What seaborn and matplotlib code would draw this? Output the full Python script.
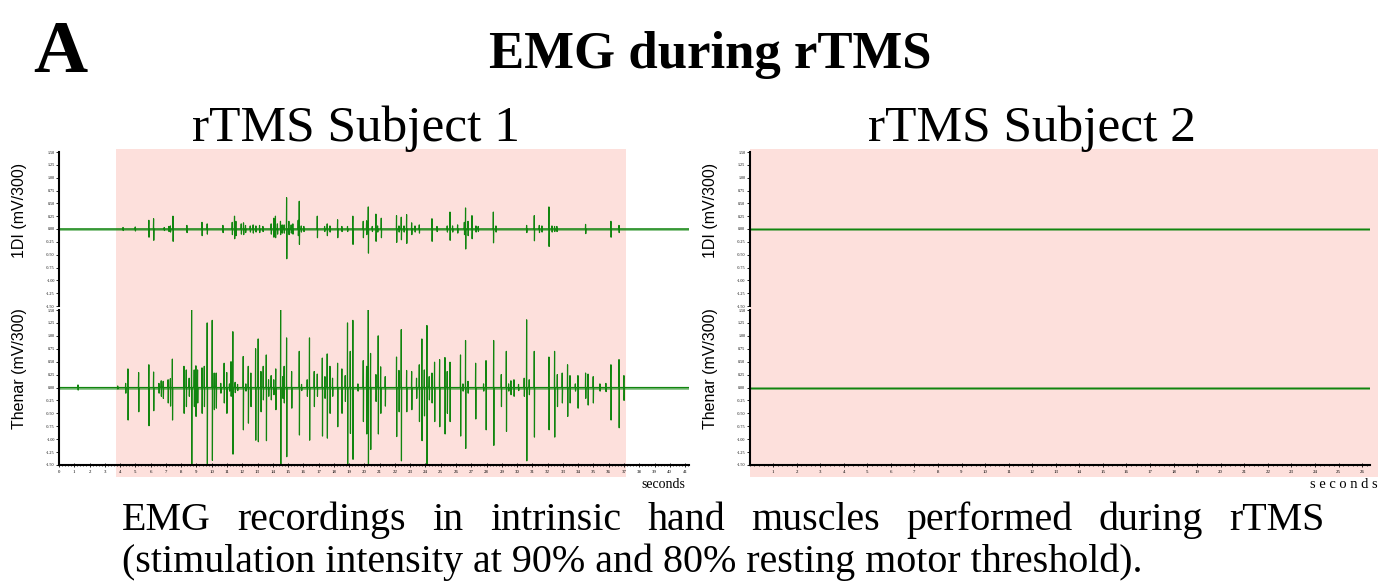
import numpy as np
import matplotlib
matplotlib.use("Agg")
import matplotlib.pyplot as plt
from matplotlib.patches import Rectangle
from matplotlib.transforms import blended_transform_factory
from matplotlib.ticker import MultipleLocator, FormatStrFormatter
import seaborn as sns

# ---------------- data ----------------
# Subject 1, 1DI channel: spike times (s), positive peak, negative peak
s1_1di_t = [4.2, 5.0, 5.89, 6.2, 6.9, 7.2, 7.3, 7.47, 8.38, 9.37, 9.71,
            10.74, 11.35, 11.5, 11.59, 11.94, 12.09, 12.22, 12.53, 12.72, 12.9, 13.14, 13.36, 13.9,
            14.07, 14.18, 14.31, 14.51, 14.62, 14.75, 14.91, 15.06, 15.21, 15.32, 15.67, 15.74, 15.87, 16.04,
            16.92, 17.4, 17.57, 17.75, 18.25, 18.53, 18.9, 19.25, 19.93, 20.15, 20.26, 20.52, 20.76, 20.87,
            21.11, 22.11, 22.27, 22.42, 22.6, 22.77, 23.1, 23.32,
            23.6, 24.43, 24.76, 25.43, 25.61, 25.78, 26.11, 26.55, 26.63, 26.79, 27.05, 27.31, 27.46, 28.45, 28.62,
            30.63, 31.13, 31.46, 31.63, 32.09, 32.29, 32.46, 32.61, 34.49, 36.15, 36.68]
s1_1di_pos = [0.03, 0.04, 0.17, 0.20, 0.03, 0.05, 0.06, 0.25, 0.07, 0.13, 0.10,
              0.07, 0.13, 0.25, 0.15, 0.10, 0.12, 0.07, 0.06, 0.08, 0.06, 0.07, 0.05, 0.10,
              0.21, 0.25, 0.10, 0.15, 0.08, 0.08, 0.61, 0.15, 0.08, 0.10, 0.17, 0.54, 0.06, 0.05,
              0.25, 0.05, 0.10, 0.06, 0.18, 0.05, 0.05, 0.25, 0.15, 0.16, 0.43, 0.05, 0.29, 0.06,
              0.21, 0.26, 0.06, 0.23, 0.06, 0.28, 0.12, 0.06,
              0.08, 0.20, 0.05, 0.06, 0.33, 0.06, 0.08, 0.13, 0.41, 0.15, 0.26, 0.06, 0.05, 0.33, 0.06,
              0.07, 0.26, 0.07, 0.06, 0.43, 0.06, 0.05, 0.05, 0.09, 0.15, 0.07]
s1_1di_neg = [-0.03, -0.04, -0.16, -0.22, -0.03, -0.05, -0.06, -0.24, -0.07, -0.13, -0.10,
              -0.07, -0.11, -0.19, -0.13, -0.10, -0.11, -0.07, -0.06, -0.08, -0.06, -0.07, -0.05, -0.10,
              -0.16, -0.17, -0.10, -0.11, -0.08, -0.08, -0.58, -0.11, -0.08, -0.10, -0.13, -0.30, -0.06, -0.05,
              -0.17, -0.05, -0.13, -0.06, -0.17, -0.05, -0.05, -0.30, -0.17, -0.11, -0.47, -0.05, -0.24, -0.06,
              -0.17, -0.26, -0.06, -0.21, -0.06, -0.28, -0.11, -0.06,
              -0.08, -0.24, -0.05, -0.06, -0.22, -0.06, -0.08, -0.11, -0.39, -0.13, -0.19, -0.06, -0.05, -0.27, -0.06,
              -0.07, -0.23, -0.07, -0.06, -0.34, -0.06, -0.05, -0.05, -0.09, -0.16, -0.07]

# Subject 1, Thenar channel
s1_th_t = [0.02, 1.25, 3.85,
           4.37, 4.52, 5.22, 5.89, 6.2, 6.55, 6.7, 6.83, 7.15, 7.3, 7.43, 8.19, 8.34, 8.53, 8.69, 8.86,
           8.97, 9.08, 9.37, 9.52, 9.71, 10.04, 10.17,
           10.3, 10.6, 10.82, 10.99, 11.17, 11.27, 11.39, 11.54, 11.7, 12.07, 12.24, 12.4, 12.57, 12.88,
           13.05, 13.23, 13.38, 13.58, 13.73, 13.9, 14.07, 14.2, 14.52, 14.66, 14.75, 14.91, 15.24, 15.74,
           15.89, 16.26, 16.41, 16.72,
           16.92, 17.25, 17.42, 17.57, 17.75, 17.92, 18.25, 18.53, 18.75, 18.9, 19.08, 19.25, 19.58, 19.93,
           20.15, 20.26, 20.41, 20.76, 20.91, 21.07, 21.37, 22.11, 22.27, 22.42, 22.77, 23.1, 23.42,
           23.6, 23.77, 23.93, 24.1, 24.25, 24.43, 24.6, 24.93, 25.28, 25.43, 25.61, 26.3, 26.46, 26.63,
           26.79, 27.29, 27.81, 27.97, 28.47, 28.97, 29.3, 29.45, 29.6, 29.8, 30.1,
           30.47, 30.63, 30.8, 31.13, 32.09, 32.46, 32.64, 32.96, 33.31, 33.47, 33.82, 33.99, 34.49, 34.65,
           34.99, 35.43, 35.82, 36.15, 36.68, 37.0]
s1_th_pos = [0.05, 0.05, 0.03,
             0.08, 0.36, 0.29, 0.44, 0.30, 0.08, 0.13, 0.12, 0.15, 0.17, 0.55, 0.41, 0.34, 0.18, 1.50, 0.34,
             0.42, 0.34, 0.38, 0.41, 1.25, 1.30, 0.28,
             0.28, 0.08, 0.47, 0.29, 0.07, 0.50, 1.08, 0.10, 0.06, 0.60, 0.07, 0.41, 0.28, 0.75,
             0.94, 0.31, 0.41, 0.63, 0.15, 0.23, 0.15, 0.36, 1.50, 0.21, 0.41, 0.96, 0.31, 0.70,
             0.06, 0.15, 0.96, 0.31,
             0.26, 0.57, 0.21, 0.65, 0.41, 0.18, 0.47, 0.36, 0.23, 1.25, 0.70, 1.30, 0.07, 0.52,
             0.41, 1.50, 0.66, 0.25, 1.00, 0.40, 0.21, 0.59, 0.33, 1.12, 0.33, 0.31, 0.18,
             0.44, 0.94, 0.34, 1.20, 0.21, 0.28, 0.49, 0.54, 0.58, 0.31, 0.49, 0.63, 0.07, 0.91,
             0.12, 0.47, 0.07, 0.52, 0.91, 0.25, 0.70, 0.07, 0.13, 0.15, 0.06,
             0.18, 1.31, 0.15, 0.70, 0.59, 0.70, 0.25, 0.28, 0.44, 0.23, 0.07, 0.23, 0.28, 0.26,
             0.21, 0.07, 0.08, 0.44, 0.54, 0.23]
s1_th_neg = [-0.05, -0.05, -0.03,
             -0.11, -0.63, -0.47, -0.74, -0.45, -0.11, -0.17, -0.21, -0.30, -0.36, -0.63, -0.50, -0.37, -0.17, -1.50, -0.37,
             -0.56, -0.30, -0.50, -0.37, -1.50, -1.41, -0.43,
             -0.40, -0.11, -0.30, -0.50, -0.07, -0.17, -1.29, -0.10, -0.06, -0.82, -0.07, -0.69, -0.37, -1.02,
             -1.05, -0.47, -0.24, -1.03, -0.17, -0.24, -0.14, -0.43, -1.50, -0.21, -0.30, -1.34, -0.40, -0.92,
             -0.06, -0.17, -1.02, -0.37,
             -0.17, -0.94, -0.21, -0.98, -0.50, -0.17, -0.76, -0.50, -0.27, -1.50, -0.89, -1.39, -0.07, -0.66,
             -0.90, -1.50, -1.20, -0.27, -0.90, -0.50, -0.36, -0.95, -0.47, -1.42, -0.47, -0.43, -0.21,
             -0.66, -1.03, -0.55, -1.50, -0.24, -0.30, -0.66, -0.76, -0.90, -0.50, -0.66, -0.94, -0.07, -1.18,
             -0.11, -0.61, -0.07, -0.82, -1.12, -0.37, -0.85, -0.07, -0.14, -0.17, -0.06,
             -0.17, -1.42, -0.14, -0.96, -0.82, -0.96, -0.37, -0.30, -0.56, -0.30, -0.07, -0.40, -0.21, -0.34,
             -0.30, -0.07, -0.08, -0.63, -0.78, -0.25]

# Subject 2: flat traces (no spikes)
s2_1di_t, s2_1di_pos, s2_1di_neg = [], [], []
s2_th_t, s2_th_pos, s2_th_neg = [], [], []

stim_s1 = (3.73, 37.1)        # rTMS period, subject 1 (s)
stim_s2 = (0.0, 26.8)         # rTMS period, subject 2 (s)
xmax_s1, xmax_s2 = 41.25, 26.35
ylabels = ["1DI (mV/300)", "Thenar (mV/300)"]
subj_titles = ["rTMS Subject 1", "rTMS Subject 2"]

# ---------------- style ----------------
sns.set_theme(style="ticks")
plt.rcParams["font.family"] = ["Liberation Serif", "DejaVu Serif"]
plt.rcParams["text.color"] = "black"
plt.rcParams["axes.labelcolor"] = "black"
plt.rcParams["axes.edgecolor"] = "black"
plt.rcParams["xtick.color"] = "black"
plt.rcParams["ytick.color"] = "black"

GREEN = "#11850f"
PINK = "#fde0dc"

W, H = 1378, 587
fig = plt.figure(figsize=(W / 100, H / 100), dpi=100)


def fx(px):
    return px / W


def fy(py):
    return 1 - py / H


def trace(t, pos, neg, xmax):
    xs, ys = [0.0], [0.0]
    for ti, p, n in zip(t, pos, neg):
        xs += [ti - 0.02, ti - 0.006, ti + 0.006, ti + 0.02]
        ys += [0.0, p, n, 0.0]
    xs.append(xmax)
    ys.append(0.0)
    return np.array(xs), np.array(ys)


def make_axes(left_px, right_px, top_px, bot_px):
    return fig.add_axes([fx(left_px), fy(bot_px), (right_px - left_px) / W, (bot_px - top_px) / H])


panels = [
    dict(left=59, right=59 + 15.27 * xmax_s1, xmax=xmax_s1, stim=stim_s1, xt0=0,
         data=[(s1_1di_t, s1_1di_pos, s1_1di_neg), (s1_th_t, s1_th_pos, s1_th_neg)]),
    dict(left=749.5, right=749.5 + 23.56 * xmax_s2, xmax=xmax_s2, stim=stim_s2, xt0=1,
         data=[(s2_1di_t, s2_1di_pos, s2_1di_neg), (s2_th_t, s2_th_pos, s2_th_neg)]),
]
rows = [(152, 306), (310, 465)]
title_cx = [356, 1032]

for pi, pan in enumerate(panels):
    axes = []
    for ri, (top, bot) in enumerate(rows):
        ax = make_axes(pan["left"], pan["right"], top, bot)
        ax.set_facecolor("none")
        t, p, n = pan["data"][ri]
        xs, ys = trace(t, p, n, pan["xmax"])
        sns.lineplot(x=xs, y=ys, sort=False, estimator=None, ax=ax, color=GREEN, lw=0.85)
        sns.lineplot(x=[0, pan["xmax"]], y=[0, 0], sort=False, estimator=None, ax=ax,
                     color=GREEN, lw=1.8, alpha=0.6)
        ax.set_xlim(0, pan["xmax"])
        ax.set_ylim(-1.5, 1.5)
        ax.yaxis.set_major_locator(MultipleLocator(0.25))
        ax.yaxis.set_major_formatter(FormatStrFormatter("%.2f"))
        ax.tick_params(axis="y", labelsize=3, length=2, width=0.6, pad=1)
        for s in ["top", "right"]:
            ax.spines[s].set_visible(False)
        ax.spines["left"].set_linewidth(1.5)
        ax.set_ylabel(ylabels[ri], family=["Liberation Sans", "DejaVu Sans"], fontsize=11.5, labelpad=0)
        ax.yaxis.set_label_coords(-32 / (pan["right"] - pan["left"]), 0.62)
        if ri == 0:
            ax.spines["bottom"].set_visible(False)
            ax.tick_params(axis="x", bottom=False, labelbottom=False)
        else:
            ax.spines["bottom"].set_linewidth(1.5)
            ax.xaxis.set_minor_locator(MultipleLocator(0.2))
            ax.set_xticks([v for v in range(pan["xt0"], int(pan["xmax"]) + 1)])
            ax.tick_params(axis="x", which="major", labelsize=3.5, length=3, width=0.6, pad=2,
                           direction="inout")
            ax.tick_params(axis="x", which="minor", length=2, width=0.5, direction="inout")
            ax.set_xlabel("")
        axes.append(ax)
    # shaded rTMS period, spanning both channels and tick labels
    tr = blended_transform_factory(axes[1].transData, fig.transFigure)
    rect = Rectangle((pan["stim"][0], fy(477)), pan["stim"][1] - pan["stim"][0], fy(149) - fy(477),
                     transform=tr, facecolor=PINK, edgecolor="none", zorder=-10)
    fig.patches.append(rect)
    fig.text(fx(title_cx[pi]), fy(141), subj_titles[pi], ha="center", va="baseline", fontsize=37)

# "seconds" labels
fig.text(fx(685), fy(488), "seconds", ha="right", va="baseline", fontsize=10)
fig.text(fx(1378), fy(488), "s e c o n d s", ha="right", va="baseline", fontsize=10.5)

# Titles
fig.text(fx(33), fy(72), "A", ha="left", va="baseline", fontsize=54, fontweight="bold")
fig.text(fx(710), fy(68), "EMG during rTMS", ha="center", va="baseline", fontsize=38, fontweight="bold")

# Caption: first line justified between x=122 and x=1325
line1 = "EMG recordings in intrinsic hand muscles performed during rTMS".split()
line2 = "(stimulation intensity at 90% and 80% resting motor threshold)."
fig.canvas.draw()
renderer = fig.canvas.get_renderer()
words = [fig.text(0, fy(530), w, ha="left", va="baseline", fontsize=28.8) for w in line1]
widths = [w.get_window_extent(renderer).width for w in words]
gap = (1325 - 122 - sum(widths)) / (len(words) - 1)
xpos = 122.0
for w, wd in zip(words, widths):
    w.set_x(fx(xpos))
    xpos += wd + gap
fig.text(fx(122), fy(572), line2, ha="left", va="baseline", fontsize=28.8)

fig.savefig("out.png", dpi=100)
